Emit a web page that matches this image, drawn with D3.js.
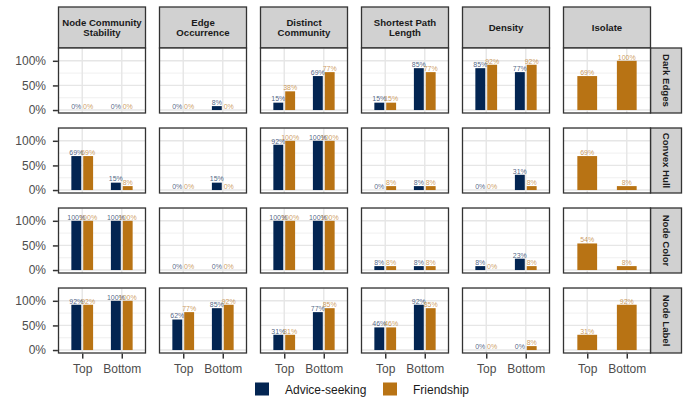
<!DOCTYPE html>
<html>
<head>
<meta charset="utf-8">
<script src="https://cdn.jsdelivr.net/npm/d3@7"></script>
<style>
  html, body { margin: 0; padding: 0; background: #fff; }
  svg { display: block; font-family: "Liberation Sans", Arial, Helvetica, sans-serif; }
</style>
</head>
<body>
<svg id="chart" width="687" height="399"></svg>
<script>
// Facet columns (metrics) and rows (visual encodings)
const metrics = [
  ["Node Community", "Stability"],
  ["Edge", "Occurrence"],
  ["Distinct", "Community"],
  ["Shortest Path", "Length"],
  ["Density"],
  ["Isolate"]
];
const encodings = ["Dark Edges", "Convex Hull", "Node Color", "Node Label"];
const positions = ["Top", "Bottom"];
const series = ["Advice-seeking", "Friendship"];
const seriesColors = ["#032552", "#B87314"];
const yTicks = [0, 0.5, 1];

// Percent of participants, one [Top, Bottom] pair per metric; null = not measured
const adviceDarkEdges  = [[0, 0], [0, 8], [15, 69], [15, 85], [85, 77], [null, null]];
const adviceConvexHull = [[69, 15], [0, 15], [92, 100], [0, 8], [0, 31], [null, null]];
const adviceNodeColor  = [[100, 100], [0, 0], [100, 100], [8, 8], [8, 23], [null, null]];
const adviceNodeLabel  = [[92, 100], [62, 85], [31, 77], [46, 92], [0, 0], [null, null]];

const friendDarkEdges  = [[0, 0], [0, 0], [38, 77], [15, 77], [92, 92], [69, 100]];
const friendConvexHull = [[69, 8], [0, 0], [100, 100], [8, 8], [0, 8], [69, 8]];
const friendNodeColor  = [[100, 100], [0, 0], [100, 100], [8, 8], [0, 8], [54, 8]];
const friendNodeLabel  = [[92, 100], [77, 92], [31, 85], [46, 85], [0, 8], [31, 92]];

const adviceByRow = [adviceDarkEdges, adviceConvexHull, adviceNodeColor, adviceNodeLabel];
const friendByRow = [friendDarkEdges, friendConvexHull, friendNodeColor, friendNodeLabel];

// Layout
const panelLeft = 58.5, panelTop = 48;
const pw = 87, ph = 65;
const colStep = 101, rowStep = 80;
const stripH = 41, stripW = 31;

const svg = d3.select("#chart");

const x = d3.scalePoint().domain(positions).range([0, pw]).padding(0.6);
const step = x.step();
const y = d3.scaleLinear().domain([-0.06, 1.26]).range([ph, 0]);

const barW = 0.25 * step;
const dodge = 0.15 * step;

// Top strips
metrics.forEach((lines, c) => {
  const gx = panelLeft + c * colStep;
  const g = svg.append("g").attr("transform", `translate(${gx},${panelTop - stripH})`);
  g.append("rect").attr("width", pw).attr("height", stripH)
    .attr("fill", "#d1d1d1").attr("stroke", "#333").attr("stroke-width", 1.3);
  const t = g.append("text").attr("text-anchor", "middle")
    .attr("font-size", 9.6).attr("font-weight", "bold").attr("fill", "#1a1a1a");
  const lh = 10.5;
  lines.forEach((ln, i) => {
    t.append("tspan").attr("x", pw / 2)
      .attr("y", stripH / 2 + 3.4 + (i - (lines.length - 1) / 2) * lh)
      .text(ln);
  });
});

encodings.forEach((enc, r) => {
  const gy = panelTop + r * rowStep;

  // Right strip
  const sg = svg.append("g").attr("transform", `translate(${panelLeft + 5 * colStep + pw},${gy})`);
  sg.append("rect").attr("width", stripW).attr("height", ph)
    .attr("fill", "#d1d1d1").attr("stroke", "#333").attr("stroke-width", 1.3);
  sg.append("text").attr("transform", `translate(${stripW / 2 - 3.4},${ph / 2}) rotate(90)`)
    .attr("text-anchor", "middle").attr("font-size", 9.6).attr("font-weight", "bold")
    .attr("fill", "#1a1a1a").text(enc);

  metrics.forEach((m, c) => {
    const gx = panelLeft + c * colStep;
    const g = svg.append("g").attr("transform", `translate(${gx},${gy})`);

    g.append("rect").attr("width", pw).attr("height", ph).attr("fill", "#fff");

    // minor grid
    [0.25, 0.75, 1.25].forEach(v => {
      g.append("line").attr("x1", 0).attr("x2", pw).attr("y1", y(v)).attr("y2", y(v))
        .attr("stroke", "#ececec").attr("stroke-width", 0.8);
    });
    // major grid
    yTicks.forEach(v => {
      g.append("line").attr("x1", 0).attr("x2", pw).attr("y1", y(v)).attr("y2", y(v))
        .attr("stroke", "#e6e6e6").attr("stroke-width", 1.4);
    });
    positions.forEach(p => {
      g.append("line").attr("x1", x(p)).attr("x2", x(p)).attr("y1", 0).attr("y2", ph)
        .attr("stroke", "#e6e6e6").attr("stroke-width", 1.4);
    });

    const adv = adviceByRow[r][c];
    const fr = friendByRow[r][c];

    positions.forEach((p, pi) => {
      const a = adv[pi], f = fr[pi];
      const items = [];
      if (a === null) {
        items.push({ v: f, cx: x(p), w: barW * 2, s: 1 });
      } else {
        items.push({ v: a, cx: x(p) - dodge, w: barW, s: 0 });
        items.push({ v: f, cx: x(p) + dodge, w: barW, s: 1 });
      }
      items.forEach(d => {
        const yv = y(d.v / 100);
        g.append("rect")
          .attr("x", d.cx - d.w / 2).attr("width", d.w)
          .attr("y", yv).attr("height", Math.max(0, y(0) - yv))
          .attr("fill", seriesColors[d.s]);
        g.append("text")
          .attr("x", d.cx).attr("y", yv - 1.2)
          .attr("text-anchor", "middle").attr("font-size", 7)
          .attr("fill", seriesColors[d.s]).attr("fill-opacity", 0.72)
          .text(d.v + "%");
      });
    });

    // panel border
    g.append("rect").attr("width", pw).attr("height", ph)
      .attr("fill", "none").attr("stroke", "#333").attr("stroke-width", 1.3);

    // y axis on first column
    if (c === 0) {
      const ax = g.append("g")
        .call(d3.axisLeft(y).tickValues(yTicks).tickFormat(d3.format(".0%"))
          .tickSize(5).tickPadding(7.5));
      ax.select(".domain").remove();
      ax.selectAll(".tick line").attr("stroke", "#333").attr("stroke-width", 1.5)
        .attr("transform", "translate(-0.6,0)");
      ax.selectAll(".tick text").attr("font-size", 12).attr("fill", "#4d4d4d")
        .attr("font-family", "Liberation Sans, Arial, sans-serif");
    }
    // x axis on last row
    if (r === encodings.length - 1) {
      const ax = g.append("g").attr("transform", `translate(0,${ph})`)
        .call(d3.axisBottom(x).tickSize(5).tickPadding(6));
      ax.select(".domain").remove();
      ax.selectAll(".tick line").attr("stroke", "#333").attr("stroke-width", 1.5)
        .attr("transform", "translate(0,0.6)");
      ax.selectAll(".tick text").attr("font-size", 12).attr("fill", "#4d4d4d")
        .attr("font-family", "Liberation Sans, Arial, sans-serif");
    }
  });
});

// Legend
const legendX = [255, 383];
const legend = svg.append("g");
series.forEach((s, i) => {
  legend.append("rect").attr("x", legendX[i]).attr("y", 382.5)
    .attr("width", 14).attr("height", 13).attr("fill", seriesColors[i]);
  legend.append("text").attr("x", legendX[i] + 30).attr("y", 393.5)
    .attr("font-size", 12).attr("fill", "#1a1a1a").text(s);
});
</script>
</body>
</html>
